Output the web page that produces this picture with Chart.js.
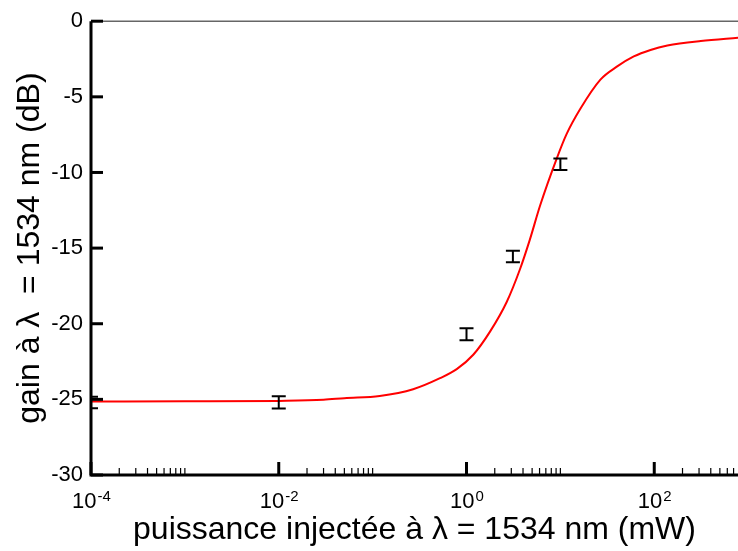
<!DOCTYPE html>
<html>
<head>
<meta charset="utf-8">
<script src="https://cdn.jsdelivr.net/npm/chart.js@4.4.1/dist/chart.umd.min.js"></script>
<style>
  html, body { margin: 0; padding: 0; background: #fff; }
  #wrap { width: 738px; height: 551px; }
</style>
</head>
<body>
<div id="wrap"><canvas id="gainChart" width="738" height="551"></canvas></div>
<script>
// fitted gain curve (red line)
const curveX = [1e-4, 1e-3, 1e-2, 0.03, 0.05, 0.119, 0.27, 0.522, 0.787, 1.18, 1.78, 2.68, 3.72, 4.74, 6.07, 9.14, 11.67, 16.2, 26.7, 40.3, 60.5, 91.2, 138, 313, 795];
const curveY = [-25.14, -25.13, -25.1, -25.03, -24.92, -24.77, -24.33, -23.6, -23.0, -22.05, -20.52, -18.56, -16.38, -14.42, -12.2, -9.08, -7.45, -5.82, -3.86, -2.99, -2.33, -1.9, -1.61, -1.31, -1.09];

// measured points with error bars
const measX = [1e-4, 1e-2, 1, 3.12, 10];
const measY = [-25.2, -25.2, -20.7, -15.55, -9.45];
const measErr = [0.38, 0.4, 0.4, 0.38, 0.38];

// axis ticks
const xMajorExp = ["-4", "-2", "0", "2"];
const yTicks = [0, -5, -10, -15, -20, -25, -30];

const FONT = "'Liberation Sans', Arial, Helvetica, sans-serif";
Chart.defaults.font.family = FONT;
Chart.defaults.color = "#000";

const framePlugin = {
  id: "framePlugin",
  afterDatasetsDraw(chart) {
    const ctx = chart.ctx;
    const area = chart.chartArea;
    const xs = chart.scales.x;
    const ys = chart.scales.y;
    ctx.save();

    // error bars
    ctx.save();
    ctx.beginPath();
    ctx.rect(area.left, 0, area.right - area.left, chart.height);
    ctx.clip();
    ctx.strokeStyle = "#000";
    ctx.lineWidth = 2;
    measX.forEach((v, i) => {
      const px = xs.getPixelForValue(v);
      const top = ys.getPixelForValue(measY[i] + measErr[i]);
      const bot = ys.getPixelForValue(measY[i] - measErr[i]);
      ctx.beginPath();
      ctx.moveTo(px, top);
      ctx.lineTo(px, bot);
      ctx.moveTo(px - 7, top);
      ctx.lineTo(px + 7, top);
      ctx.moveTo(px - 7, bot);
      ctx.lineTo(px + 7, bot);
      ctx.stroke();
    });
    ctx.restore();

    // top frame line
    ctx.strokeStyle = "#666";
    ctx.lineWidth = 1.5;
    ctx.beginPath();
    ctx.moveTo(area.left, area.top);
    ctx.lineTo(area.right, area.top);
    ctx.stroke();

    // left and bottom axes
    ctx.strokeStyle = "#000";
    ctx.lineWidth = 3;
    ctx.beginPath();
    ctx.moveTo(area.left, area.top);
    ctx.lineTo(area.left, area.bottom);
    ctx.lineTo(area.right, area.bottom);
    ctx.stroke();

    // y ticks (inward)
    yTicks.forEach((v) => {
      const py = ys.getPixelForValue(v);
      ctx.beginPath();
      ctx.moveTo(area.left, py);
      ctx.lineTo(area.left + 12, py);
      ctx.stroke();
    });

    // x ticks (inward), major every two decades, minor 2..10
    xMajorExp.forEach((e) => {
      const base = Math.pow(10, Number(e));
      const px = xs.getPixelForValue(base);
      ctx.lineWidth = 3;
      ctx.beginPath();
      ctx.moveTo(px, area.bottom);
      ctx.lineTo(px, area.bottom - 13);
      ctx.stroke();
      ctx.lineWidth = 1.2;
      for (let k = 2; k <= 10; k++) {
        const v = k * base;
        if (v > xs.max) break;
        const mx = xs.getPixelForValue(v);
        ctx.beginPath();
        ctx.moveTo(mx, area.bottom);
        ctx.lineTo(mx, area.bottom - 7);
        ctx.stroke();
      }
    });

    // x tick labels 10^e
    ctx.fillStyle = "#000";
    ctx.textBaseline = "alphabetic";
    ctx.textAlign = "left";
    xMajorExp.forEach((e) => {
      const px = xs.getPixelForValue(Math.pow(10, Number(e)));
      ctx.font = "22px " + FONT;
      const wBase = ctx.measureText("10").width;
      ctx.font = "15px " + FONT;
      const wExp = ctx.measureText(e).width;
      const x0 = px - (wBase + wExp) / 2;
      ctx.font = "22px " + FONT;
      ctx.fillText("10", x0, 508);
      ctx.font = "15px " + FONT;
      ctx.fillText(e, x0 + wBase + 1, 501);
    });

    ctx.restore();
  }
};

const curveData = curveX.map((x, i) => ({ x: x, y: curveY[i] }));

new Chart(document.getElementById("gainChart"), {
  type: "line",
  data: {
    datasets: [
      {
        data: curveData,
        borderColor: "#ff0000",
        borderWidth: 2,
        pointRadius: 0,
        fill: false,
        cubicInterpolationMode: "monotone"
      }
    ]
  },
  options: {
    responsive: false,
    animation: false,
    layout: { padding: { top: 16, right: 0, left: 0, bottom: 0 } },
    plugins: {
      legend: { display: false },
      tooltip: { enabled: false }
    },
    scales: {
      x: {
        type: "logarithmic",
        min: 1e-4,
        max: 780,
        grid: { display: false },
        border: { display: false },
        ticks: { display: false },
        title: {
          display: true,
          text: "puissance injectée à λ = 1534 nm (mW)",
          font: { size: 32 },
          padding: { top: 0, bottom: 2 }
        },
        afterFit(scale) { scale.height = 76; }
      },
      y: {
        min: -30,
        max: 0,
        grid: { display: false, drawTicks: false },
        border: { display: false },
        ticks: {
          stepSize: 5,
          padding: 8,
          font: { size: 22 },
          color: "#000"
        },
        title: {
          display: true,
          text: "gain à λ  = 1534 nm (dB)",
          font: { size: 32 },
          padding: { top: 11, bottom: 0 }
        },
        afterFit(scale) { scale.width = 91; }
      }
    }
  },
  plugins: [framePlugin]
});
</script>
</body>
</html>
